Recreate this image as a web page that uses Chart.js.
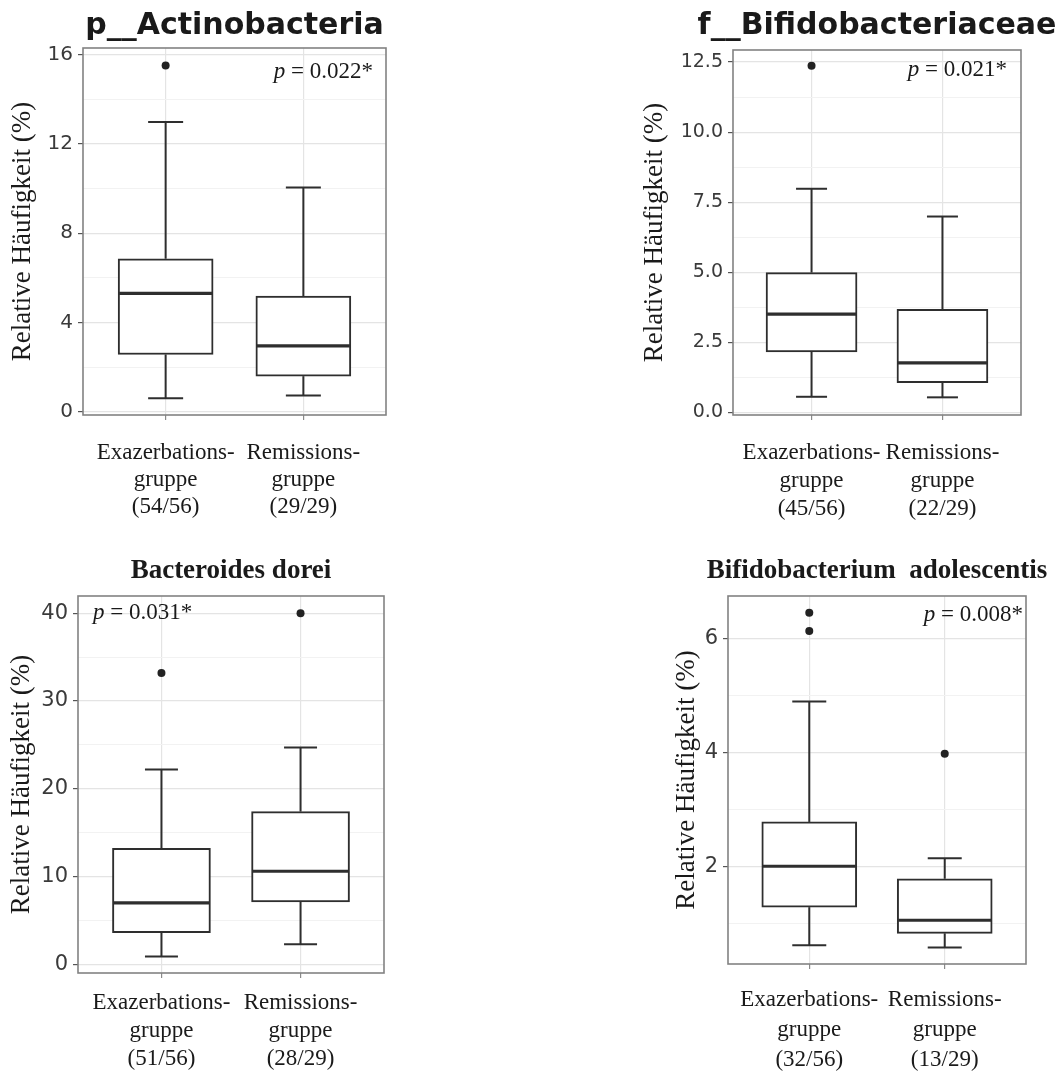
<!DOCTYPE html>
<html><head><meta charset="utf-8">
<script src="https://cdn.jsdelivr.net/npm/chart.js@4.4.1/dist/chart.umd.min.js"></script>
<style>
html,body{margin:0;padding:0;background:#fff;overflow:hidden;width:1064px;height:1077px;position:relative;}
.panel{position:absolute;}
</style></head><body>
<div class="panel" style="left:0px;top:0px;width:469px;height:530px"><canvas id="c1"></canvas></div>
<div class="panel" style="left:633px;top:0px;width:488px;height:530px"><canvas id="c2"></canvas></div>
<div class="panel" style="left:0px;top:550px;width:462px;height:527px"><canvas id="c3"></canvas></div>
<div class="panel" style="left:670px;top:550px;width:414px;height:527px"><canvas id="c4"></canvas></div>
<script>
// ---------- data ----------
const yAxisTitle = 'Relative Häufigkeit (%)';
const titles = ['p__Actinobacteria', 'f__Bifidobacteriaceae', 'Bacteroides dorei', 'Bifidobacterium  adolescentis'];
const pValues = ['0.022*', '0.021*', '0.031*', '0.008*'];

const xLabels1 = [['Exazerbations-', 'gruppe', '(54/56)'], ['Remissions-', 'gruppe', '(29/29)']];
const xLabels2 = [['Exazerbations-', 'gruppe', '(45/56)'], ['Remissions-', 'gruppe', '(22/29)']];
const xLabels3 = [['Exazerbations-', 'gruppe', '(51/56)'], ['Remissions-', 'gruppe', '(28/29)']];
const xLabels4 = [['Exazerbations-', 'gruppe', '(32/56)'], ['Remissions-', 'gruppe', '(13/29)']];

// [Exazerbationsgruppe, Remissionsgruppe]
const actinoLow = [0.61, 0.73];
const actinoQ1 = [2.57, 1.60];
const actinoMedian = [5.31, 2.96];
const actinoQ3 = [6.86, 5.19];
const actinoHigh = [12.98, 10.05];
const actinoOutliers = [[15.52], []];

const bifidaceaeLow = [0.56, 0.54];
const bifidaceaeQ1 = [2.16, 1.06];
const bifidaceaeMedian = [3.51, 1.77];
const bifidaceaeQ3 = [4.99, 3.68];
const bifidaceaeHigh = [7.98, 6.99];
const bifidaceaeOutliers = [[12.37], []];

const doreiLow = [0.87, 2.28];
const doreiQ1 = [3.6, 7.1];
const doreiMedian = [7.0, 10.6];
const doreiQ3 = [13.2, 17.4];
const doreiHigh = [22.2, 24.7];
const doreiOutliers = [[33.2], [40.0]];

const adolLow = [0.61, 0.57];
const adolQ1 = [1.28, 0.82];
const adolMedian = [2.0, 1.05];
const adolQ3 = [2.78, 1.78];
const adolHigh = [4.9, 2.14];
const adolOutliers = [[6.46, 6.14], [3.98]];

// axis ranges and ticks
const yRange1 = [-0.14, 16.3];
const yMajor1 = [0, 4, 8, 12, 16];
const yMinor1 = [2, 6, 10, 14];
const yTickLabels1 = ['0', '4', '8', '12', '16'];

const yRange2 = [-0.09, 12.93];
const yMajor2 = [0, 2.5, 5, 7.5, 10, 12.5];
const yMinor2 = [1.25, 3.75, 6.25, 8.75, 11.25];
const yTickLabels2 = ['0.0', '2.5', '5.0', '7.5', '10.0', '12.5'];

const yRange3 = [-1.0, 41.97];
const yMajor3 = [0, 10, 20, 30, 40];
const yMinor3 = [5, 15, 25, 35];
const yTickLabels3 = ['0', '10', '20', '30', '40'];

const yRange4 = [0.28, 6.756];
const yMajor4 = [2, 4, 6];
const yMinor4 = [1, 3, 5];
const yTickLabels4 = ['2', '4', '6'];

const xRange = [0.4, 2.6];
const xPositions = [1, 2];

// ---------- rendering ----------
const boxPlugin = {
  id: 'boxExtras',
  afterDatasetsDraw(chart, args, o) {
    const {ctx, scales: {x, y}} = chart;
    const s = o.stats;
    ctx.save();
    ctx.strokeStyle = '#2e2e2e';
    ctx.lineCap = 'butt';
    const line = (x1, y1, x2, y2) => { ctx.beginPath(); ctx.moveTo(x1, y1); ctx.lineTo(x2, y2); ctx.stroke(); };
    s.low.forEach((lo, i) => {
      const px = x.getPixelForValue(xPositions[i]);
      const pLow = y.getPixelForValue(lo), pQ1 = y.getPixelForValue(s.q1[i]);
      const pQ3 = y.getPixelForValue(s.q3[i]), pHigh = y.getPixelForValue(s.high[i]);
      const pMed = y.getPixelForValue(s.med[i]);
      ctx.lineWidth = 2;
      line(px, pLow, px, pQ1);
      line(px, pQ3, px, pHigh);
      line(px - o.capW / 2, pLow, px + o.capW / 2, pLow);
      line(px - o.capW / 2, pHigh, px + o.capW / 2, pHigh);
      ctx.lineWidth = 3.2;
      line(px - o.boxW / 2 + 1, pMed, px + o.boxW / 2 - 1, pMed);
    });
    ctx.restore();
  },
  afterDraw(chart, args, o) {
    const {ctx, chartArea: a} = chart;
    ctx.save();
    ctx.strokeStyle = '#828282';
    ctx.lineWidth = 1.6;
    ctx.strokeRect(a.left, a.top, a.right - a.left, a.bottom - a.top);
    const size = 23;
    const fItal = 'italic ' + size + "px 'Liberation Serif', serif";
    const fReg = size + "px 'Liberation Serif', serif";
    ctx.font = fItal; const wP = ctx.measureText('p').width;
    const rest = ' = ' + o.p;
    ctx.font = fReg; const wR = ctx.measureText(rest).width;
    const x0 = o.pAlign === 'left' ? a.left + o.pdx : a.right - o.pdx - wP - wR;
    const y0 = a.top + o.pdy;
    ctx.fillStyle = '#1a1a1a';
    ctx.textBaseline = 'middle';
    ctx.textAlign = 'left';
    ctx.font = fItal; ctx.fillText('p', x0, y0);
    ctx.font = fReg; ctx.fillText(rest, x0 + wP, y0);
    ctx.restore();
  }
};

function makePanel(c) {
  const boxes = c.q1.map((v, i) => ({x: xPositions[i], y: [v, c.q3[i]]}));
  const pts = [];
  c.outliers.forEach((arr, i) => arr.forEach(v => pts.push({x: xPositions[i], y: v})));
  const isMajor = v => c.yMajor.some(m => Math.abs(m - v) < 1e-9);
  return new Chart(document.getElementById(c.id), {
    type: 'bar',
    data: {
      datasets: [
        {type: 'scatter', data: pts, pointRadius: 4, pointHoverRadius: 4, pointBackgroundColor: '#222', pointBorderWidth: 0, order: 0},
        {type: 'bar', data: boxes, backgroundColor: '#ffffff', borderColor: '#2e2e2e', borderWidth: 2, borderSkipped: false, barThickness: c.boxW, order: 1}
      ]
    },
    options: {
      responsive: true,
      maintainAspectRatio: false,
      animation: false,
      events: [],
      layout: {padding: 0},
      plugins: {
        legend: {display: false},
        tooltip: {enabled: false},
        title: {display: true, text: c.title, color: '#1a1a1a', font: c.titleFont, padding: c.titlePad},
        boxExtras: {
          stats: {low: c.low, q1: c.q1, med: c.med, q3: c.q3, high: c.high},
          boxW: c.boxW, capW: c.capW, p: c.p, pAlign: c.pAlign, pdx: c.pdx, pdy: c.pdy
        }
      },
      scales: {
        x: {
          type: 'linear', position: 'bottom', min: xRange[0], max: xRange[1], offset: false,
          afterBuildTicks: s => { s.ticks = xPositions.map(v => ({value: v})); },
          afterFit: s => { s.height = c.xH; },
          grid: {color: '#e4e4e4', lineWidth: 1.2, tickColor: '#8a8a8a', tickLength: 5, tickWidth: 1.2, offset: false},
          border: {display: false},
          ticks: {
            autoSkip: false, maxRotation: 0, minRotation: 0, padding: c.xPad, color: '#1a1a1a',
            font: {family: "'Liberation Serif', serif", size: 23, lineHeight: c.xLineH + 'px'},
            callback: (v, i) => c.xLabels[i]
          }
        },
        y: {
          type: 'linear', position: 'left', min: c.yRange[0], max: c.yRange[1], beginAtZero: false,
          afterBuildTicks: s => { s.ticks = c.yMajor.concat(c.yMinor).sort((a, b) => a - b).map(v => ({value: v})); },
          afterFit: s => { s.width = c.yW; },
          grid: {
            color: ctx => isMajor(ctx.tick.value) ? '#e4e4e4' : '#f2f2f2',
            lineWidth: ctx => isMajor(ctx.tick.value) ? 1.2 : 1,
            tickColor: ctx => isMajor(ctx.tick.value) ? '#555' : 'rgba(0,0,0,0)',
            tickLength: 5, tickWidth: 1.2
          },
          border: {display: false},
          ticks: {
            autoSkip: false, padding: 5, color: '#3a3a3a',
            font: {family: "'DejaVu Sans', sans-serif", size: c.tickSize},
            callback: v => { const k = c.yMajor.findIndex(m => Math.abs(m - v) < 1e-9); return k >= 0 ? c.yTickLabels[k] : ''; }
          },
          title: {display: true, text: yAxisTitle, color: '#1a1a1a', font: {family: "'Liberation Serif', serif", size: 27}, padding: {top: c.yTitlePad, bottom: 0}}
        },
        yR: {
          type: 'linear', position: 'right', display: true,
          afterFit: s => { s.width = c.yW; },
          grid: {display: false}, border: {display: false}, ticks: {display: false}
        }
      }
    },
    plugins: [boxPlugin]
  });
}

const sansTitle = {family: "'DejaVu Sans', sans-serif", size: 30, weight: 'bold'};
const serifTitle = {family: "'Liberation Serif', serif", size: 27, weight: 'bold'};

makePanel({id: 'c1', title: titles[0], titleFont: sansTitle, titlePad: {top: 8, bottom: 4},
  low: actinoLow, q1: actinoQ1, med: actinoMedian, q3: actinoQ3, high: actinoHigh, outliers: actinoOutliers,
  xLabels: xLabels1, yRange: yRange1, yMajor: yMajor1, yMinor: yMinor1, yTickLabels: yTickLabels1,
  tickSize: 20, yW: 83, xH: 115, xPad: 19, xLineH: 27, yTitlePad: 7, boxW: 95, capW: 35,
  p: pValues[0], pAlign: 'right', pdx: 13, pdy: 24});

makePanel({id: 'c2', title: titles[1], titleFont: sansTitle, titlePad: {top: 8, bottom: 6},
  low: bifidaceaeLow, q1: bifidaceaeQ1, med: bifidaceaeMedian, q3: bifidaceaeQ3, high: bifidaceaeHigh, outliers: bifidaceaeOutliers,
  xLabels: xLabels2, yRange: yRange2, yMajor: yMajor2, yMinor: yMinor2, yTickLabels: yTickLabels2,
  tickSize: 19, yW: 100, xH: 115, xPad: 19, xLineH: 28, yTitlePad: 6, boxW: 91, capW: 31,
  p: pValues[1], pAlign: 'right', pdx: 14, pdy: 20});

makePanel({id: 'c3', title: titles[2], titleFont: serifTitle, titlePad: {top: 5, bottom: 8.6},
  low: doreiLow, q1: doreiQ1, med: doreiMedian, q3: doreiQ3, high: doreiHigh, outliers: doreiOutliers,
  xLabels: xLabels3, yRange: yRange3, yMajor: yMajor3, yMinor: yMinor3, yTickLabels: yTickLabels3,
  tickSize: 21, yW: 78, xH: 104, xPad: 11, xLineH: 28, yTitlePad: 6, boxW: 98, capW: 33,
  p: pValues[2], pAlign: 'left', pdx: 15, pdy: 17});

makePanel({id: 'c4', title: titles[3], titleFont: serifTitle, titlePad: {top: 5, bottom: 8.6},
  low: adolLow, q1: adolQ1, med: adolMedian, q3: adolQ3, high: adolHigh, outliers: adolOutliers,
  xLabels: xLabels4, yRange: yRange4, yMajor: yMajor4, yMinor: yMinor4, yTickLabels: yTickLabels4,
  tickSize: 21, yW: 58, xH: 113, xPad: 16, xLineH: 30, yTitlePad: 1, boxW: 95, capW: 34,
  p: pValues[3], pAlign: 'right', pdx: 3, pdy: 19});
</script>
</body></html>
